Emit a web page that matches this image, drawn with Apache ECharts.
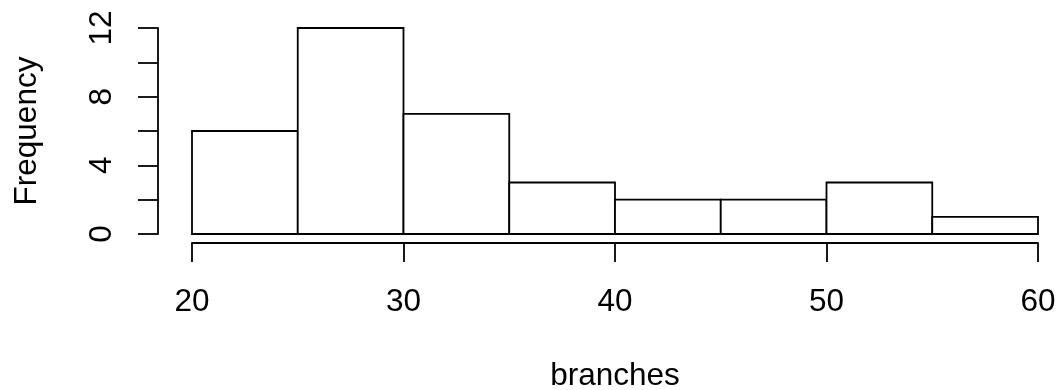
<!DOCTYPE html>
<html>
<head>
<meta charset="utf-8">
<script src="https://cdn.jsdelivr.net/npm/echarts@6/dist/echarts.min.js"></script>
<style>html,body{margin:0;padding:0;background:#fff}#c{width:1057px;height:390px}</style>
</head>
<body>
<div id="c"></div>
<script>
const binStarts = [20, 25, 30, 35, 40, 45, 50, 55];
const binEnds   = [25, 30, 35, 40, 45, 50, 55, 60];
const counts    = [6, 12, 7, 3, 2, 2, 3, 1];
const xTicks = [20, 30, 40, 50, 60];
const yLabelTicks = [0, 4, 8, 12];

const data = binStarts.map((s, i) => [s, binEnds[i], counts[i]]);
const font = 'Liberation Sans, Arial, Helvetica, sans-serif';
const fs = 31.5;
const lw = 1.8;
const chart = echarts.init(document.getElementById('c'), null, {renderer: 'canvas'});
chart.setOption({
  backgroundColor: '#ffffff',
  animation: false,
  grid: {left: 192, right: 19, top: 28, bottom: 156, containLabel: false, outerBoundsMode: 'none'},
  xAxis: {
    type: 'value', min: 20, max: 60, interval: 10, offset: 9,
    name: 'branches', nameLocation: 'middle', nameGap: 117,
    nameTextStyle: {fontFamily: font, fontSize: fs, color: '#000'},
    axisLine: {show: true, onZero: false, lineStyle: {color: '#000', width: lw}},
    axisTick: {show: true, length: 19, lineStyle: {color: '#000', width: lw}},
    axisLabel: {margin: 43, fontFamily: font, fontSize: fs, color: '#000',
      formatter: v => xTicks.includes(v) ? String(v) : ''},
    splitLine: {show: false}
  },
  yAxis: {
    type: 'value', min: 0, max: 12, interval: 2, offset: 34,
    name: 'Frequency', nameLocation: 'middle', nameGap: 115, nameRotate: 90,
    nameTextStyle: {fontFamily: font, fontSize: fs, color: '#000'},
    axisLine: {show: true, lineStyle: {color: '#000', width: lw}},
    axisTick: {show: true, length: 20, lineStyle: {color: '#000', width: lw}},
    axisLabel: {margin: 40, rotate: 90, fontFamily: font, fontSize: fs, color: '#000',
      formatter: v => yLabelTicks.includes(v) ? String(v) : ''},
    splitLine: {show: false}
  },
  series: [{
    type: 'custom',
    data: data,
    encode: {x: [0, 1], y: 2},
    renderItem: function (params, api) {
      const p0 = api.coord([api.value(0), 0]);
      const p1 = api.coord([api.value(1), api.value(2)]);
      return {
        type: 'rect',
        shape: {x: p0[0], y: p1[1], width: p1[0] - p0[0], height: p0[1] - p1[1]},
        style: {fill: '#ffffff', stroke: '#000000', lineWidth: lw}
      };
    }
  }]
});
</script>
</body>
</html>
